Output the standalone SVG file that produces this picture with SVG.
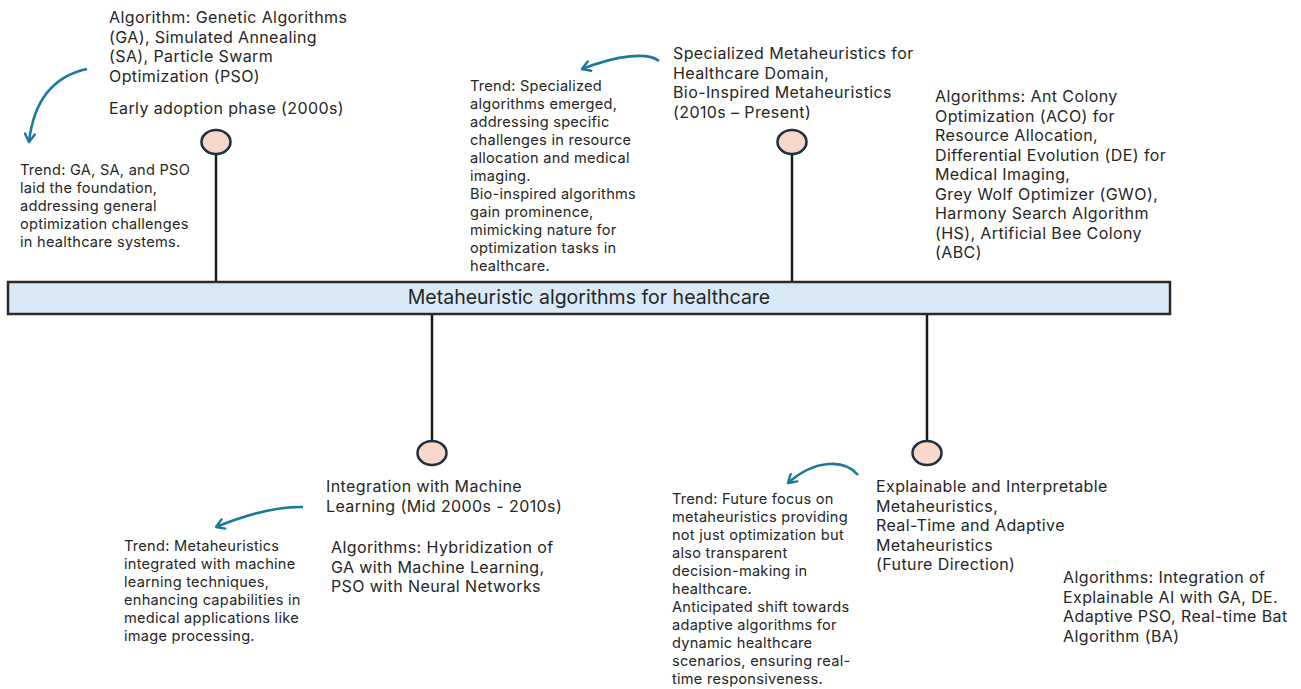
<svg xmlns="http://www.w3.org/2000/svg" width="1301" height="689" viewBox="0 0 1301 689">
<style>
text{font-family:Inter,"Liberation Sans",sans-serif;fill:#262626}
.m{font-size:16px;letter-spacing:0.4px}
.t{font-size:14.6px;letter-spacing:0.25px}
.bar{fill:#d9eaf6;stroke:#2a2a2a;stroke-width:2.5}
.dot{fill:#f7d9cb;stroke:#1e2f3b;stroke-width:2.5}
.stem{stroke:#1a1a1a;stroke-width:2.5;fill:none}
.arr{stroke:#1b7a9b;stroke-width:2.6;fill:none;marker-end:url(#ah)}
</style>
<defs>
<marker id="ah" markerUnits="userSpaceOnUse" viewBox="0 0 12 12" refX="10" refY="6" markerWidth="12" markerHeight="12" orient="auto">
<path d="M2,1 L10,6 L2,11" fill="none" stroke="#1b7a9b" stroke-width="2.4" stroke-linecap="round" stroke-linejoin="round"/>
</marker>
</defs>
<rect width="1301" height="689" fill="#ffffff"/>

<g id="connectors">
<line class="stem" x1="216" y1="154" x2="216" y2="282"/>
<line class="stem" x1="792" y1="154" x2="792" y2="282"/>
<line class="stem" x1="432" y1="314" x2="432" y2="441"/>
<line class="stem" x1="927" y1="314" x2="927" y2="441"/>
<path class="arr" d="M87,69 Q36,80 29,142"/>
<path class="arr" d="M659,61 C648,52 618,55 582,69"/>
<path class="arr" d="M303,507 Q268,506 216,527"/>
<path class="arr" d="M858,475 C845,459 815,459 788,483"/>
</g>

<g id="timeline-bar">
<rect class="bar" x="8" y="282" width="1162" height="32"/>
<text x="589" y="304" font-size="19.5" text-anchor="middle">Metaheuristic algorithms for healthcare</text>
</g>

<g id="node-early">
<ellipse class="dot" cx="216" cy="142" rx="14.5" ry="12"/>
<text class="m" x="109"><tspan x="109" y="23">Algorithm: Genetic Algorithms</tspan><tspan x="109" y="42.5">(GA), Simulated Annealing</tspan><tspan x="109" y="62">(SA), Particle Swarm</tspan><tspan x="109" y="81.5">Optimization (PSO)</tspan></text>
<text class="m" x="109" y="114">Early adoption phase (2000s)</text>
<text class="t" x="20"><tspan x="20" y="175">Trend: GA, SA, and PSO</tspan><tspan x="20" y="193">laid the foundation,</tspan><tspan x="20" y="211">addressing general</tspan><tspan x="20" y="229">optimization challenges</tspan><tspan x="20" y="247">in healthcare systems.</tspan></text>
</g>

<g id="node-specialized">
<ellipse class="dot" cx="792" cy="142" rx="14.5" ry="12"/>
<text class="m" x="673"><tspan x="673" y="59">Specialized Metaheuristics for</tspan><tspan x="673" y="78.5">Healthcare Domain,</tspan><tspan x="673" y="98">Bio-Inspired Metaheuristics</tspan><tspan x="673" y="117.5">(2010s – Present)</tspan></text>
<text class="t" x="470"><tspan x="470" y="91">Trend: Specialized</tspan><tspan x="470" y="109">algorithms emerged,</tspan><tspan x="470" y="127">addressing specific</tspan><tspan x="470" y="145">challenges in resource</tspan><tspan x="470" y="163">allocation and medical</tspan><tspan x="470" y="181">imaging.</tspan><tspan x="470" y="199">Bio-inspired algorithms</tspan><tspan x="470" y="217">gain prominence,</tspan><tspan x="470" y="235">mimicking nature for</tspan><tspan x="470" y="253">optimization tasks in</tspan><tspan x="470" y="271">healthcare.</tspan></text>
<text class="m" x="935"><tspan x="935" y="102">Algorithms: Ant Colony</tspan><tspan x="935" y="121.5">Optimization (ACO) for</tspan><tspan x="935" y="141">Resource Allocation,</tspan><tspan x="935" y="160.5">Differential Evolution (DE) for</tspan><tspan x="935" y="180">Medical Imaging,</tspan><tspan x="935" y="199.5">Grey Wolf Optimizer (GWO),</tspan><tspan x="935" y="219">Harmony Search Algorithm</tspan><tspan x="935" y="238.5">(HS), Artificial Bee Colony</tspan><tspan x="935" y="258">(ABC)</tspan></text>
</g>

<g id="node-ml">
<ellipse class="dot" cx="432" cy="453" rx="14.5" ry="12"/>
<text class="m" x="326"><tspan x="326" y="492">Integration with Machine</tspan><tspan x="326" y="511.5">Learning (Mid 2000s - 2010s)</tspan></text>
<text class="m" x="331"><tspan x="331" y="553">Algorithms: Hybridization of</tspan><tspan x="331" y="572.5">GA with Machine Learning,</tspan><tspan x="331" y="592">PSO with Neural Networks</tspan></text>
<text class="t" x="124"><tspan x="124" y="551">Trend: Metaheuristics</tspan><tspan x="124" y="569">integrated with machine</tspan><tspan x="124" y="587">learning techniques,</tspan><tspan x="124" y="605">enhancing capabilities in</tspan><tspan x="124" y="623">medical applications like</tspan><tspan x="124" y="641">image processing.</tspan></text>
</g>

<g id="node-future">
<ellipse class="dot" cx="927" cy="453" rx="14.5" ry="12"/>
<text class="m" x="876"><tspan x="876" y="492">Explainable and Interpretable</tspan><tspan x="876" y="511.5">Metaheuristics,</tspan><tspan x="876" y="531">Real-Time and Adaptive</tspan><tspan x="876" y="550.5">Metaheuristics</tspan><tspan x="876" y="570">(Future Direction)</tspan></text>
<text class="t" x="672"><tspan x="672" y="504">Trend: Future focus on</tspan><tspan x="672" y="522">metaheuristics providing</tspan><tspan x="672" y="540">not just optimization but</tspan><tspan x="672" y="558">also transparent</tspan><tspan x="672" y="576">decision-making in</tspan><tspan x="672" y="594">healthcare.</tspan><tspan x="672" y="612">Anticipated shift towards</tspan><tspan x="672" y="630">adaptive algorithms for</tspan><tspan x="672" y="648">dynamic healthcare</tspan><tspan x="672" y="666">scenarios, ensuring real-</tspan><tspan x="672" y="684">time responsiveness.</tspan></text>
<text class="m" x="1063"><tspan x="1063" y="583">Algorithms: Integration of</tspan><tspan x="1063" y="602.5">Explainable AI with GA, DE.</tspan><tspan x="1063" y="622">Adaptive PSO, Real-time Bat</tspan><tspan x="1063" y="641.5">Algorithm (BA)</tspan></text>
</g>
</svg>
